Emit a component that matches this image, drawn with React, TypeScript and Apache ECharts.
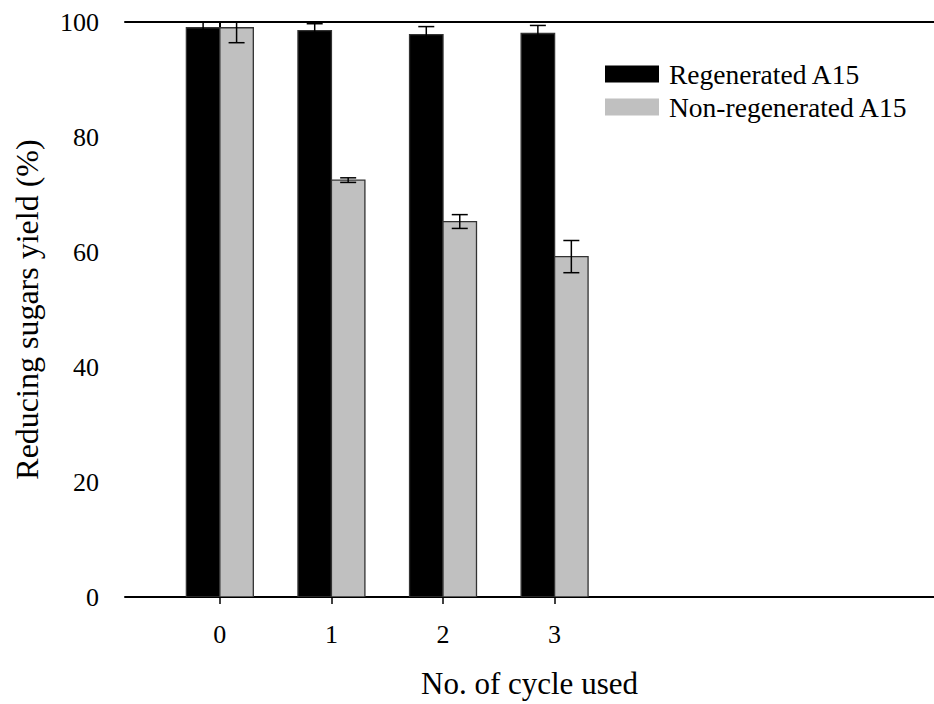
import React, { useEffect, useRef } from "react";
import * as echarts from "echarts";

const cycles = [0, 1, 2, 3];
const regenerated = [99.0, 98.5, 97.8, 98.0];
const regeneratedErr = [1.0, 1.2, 1.4, 1.4];
const nonRegenerated = [99.0, 72.5, 65.3, 59.2];
const nonRegeneratedErr = [2.6, 0.4, 1.2, 2.8];
const yTicks = [0, 20, 40, 60, 80, 100];
const seriesNames = ["Regenerated A15", "Non-regenerated A15"];

const FONT = "'Liberation Serif', 'Times New Roman', serif";
const BAR_W = 0.3;

function makeRender(offset: number, fill: string) {
  return (params: any, api: any) => {
    const x = api.value(0) as number;
    const y = api.value(1) as number;
    const e = api.value(2) as number;
    const x0 = x + offset;
    const tl = api.coord([x0, y]);
    const br = api.coord([x0 + BAR_W, 0]);
    const cx = api.coord([x0 + BAR_W / 2, y])[0];
    const top = api.coord([x0 + BAR_W / 2, y + e])[1];
    const bot = api.coord([x0 + BAR_W / 2, y - e])[1];
    const cap = 8;
    const children: any[] = [
      {
        type: "rect",
        shape: { x: tl[0], y: tl[1], width: br[0] - tl[0], height: br[1] - tl[1] },
        style: { fill, stroke: "#333", lineWidth: 1.3 },
      },
      {
        type: "line",
        shape: { x1: cx, y1: top, x2: cx, y2: bot },
        style: { stroke: "#000", lineWidth: 1.5 },
      },
      {
        type: "line",
        shape: { x1: cx - cap, y1: bot, x2: cx + cap, y2: bot },
        style: { stroke: "#000", lineWidth: 1.5 },
      },
    ];
    if (y + e <= 100) {
      children.push({
        type: "line",
        shape: { x1: cx - cap, y1: top, x2: cx + cap, y2: top },
        style: { stroke: "#000", lineWidth: 1.5 },
      });
    }
    return { type: "group", children };
  };
}

export default function App() {
  const ref = useRef<HTMLDivElement>(null);
  useEffect(() => {
    if (!ref.current) return;
    const chart = echarts.init(ref.current, null, { renderer: "svg" });
    const axisLabelStyle = { fontFamily: FONT, fontSize: 26, color: "#000" };
    chart.setOption({
      animation: false,
      backgroundColor: "#fff",
      grid: { left: 125, right: 0, top: 22, bottom: 107, containLabel: false },
      legend: {
        left: 600,
        top: 55,
        orient: "vertical",
        itemWidth: 54,
        itemHeight: 17,
        itemGap: 5,
        textStyle: { fontFamily: FONT, fontSize: 27.5, color: "#000", padding: [0, 0, 0, 5] },
        data: [
          { name: seriesNames[0], icon: "rect", itemStyle: { color: "#000", borderWidth: 0 } },
          { name: seriesNames[1], icon: "rect", itemStyle: { color: "#c0c0c0", borderWidth: 0 } },
        ],
      },
      xAxis: [
        {
          type: "value",
          min: -0.85,
          max: 6.4,
          name: "No. of cycle used",
          nameLocation: "middle",
          nameGap: 71,
          nameTextStyle: { fontFamily: FONT, fontSize: 31, color: "#000" },
          axisLine: { show: true, lineStyle: { color: "#000", width: 2 } },
          axisTick: { show: true, inside: false, length: 7, customValues: cycles, lineStyle: { color: "#000", width: 1.5 } },
          axisLabel: { ...axisLabelStyle, margin: 24, customValues: cycles },
          splitLine: { show: false },
        },
        {
          type: "value",
          position: "top",
          min: -0.85,
          max: 6.4,
          axisLine: { show: true, lineStyle: { color: "#000", width: 2 } },
          axisTick: { show: false },
          axisLabel: { show: false },
          splitLine: { show: false },
        },
      ],
      yAxis: {
        type: "value",
        min: 0,
        max: 100,
        interval: 20,
        name: "Reducing sugars yield (%)",
        nameLocation: "middle",
        nameGap: 82,
        nameTextStyle: { fontFamily: FONT, fontSize: 32, color: "#000" },
        axisLine: { show: true, lineStyle: { color: "#000", width: 2 } },
        axisTick: { show: true, inside: false, length: 8, lineStyle: { color: "#000", width: 1.5 } },
        axisLabel: { ...axisLabelStyle, margin: 26, customValues: yTicks },
        splitLine: { show: false },
      },
      series: [
        {
          name: seriesNames[0],
          type: "custom",
          xAxisIndex: 0,
          clip: true,
          itemStyle: { color: "#000" },
          encode: { x: 0, y: 1 },
          renderItem: makeRender(-BAR_W, "#000"),
          data: cycles.map((c, i) => [c, regenerated[i], regeneratedErr[i]]),
        },
        {
          name: seriesNames[1],
          type: "custom",
          xAxisIndex: 0,
          clip: true,
          itemStyle: { color: "#c0c0c0" },
          encode: { x: 0, y: 1 },
          renderItem: makeRender(0, "#c0c0c0"),
          data: cycles.map((c, i) => [c, nonRegenerated[i], nonRegeneratedErr[i]]),
        },
      ],
    });
    return () => chart.dispose();
  }, []);
  return <div ref={ref} style={{ width: 934, height: 704, position: "absolute", left: 0, top: 0 }} />;
}
